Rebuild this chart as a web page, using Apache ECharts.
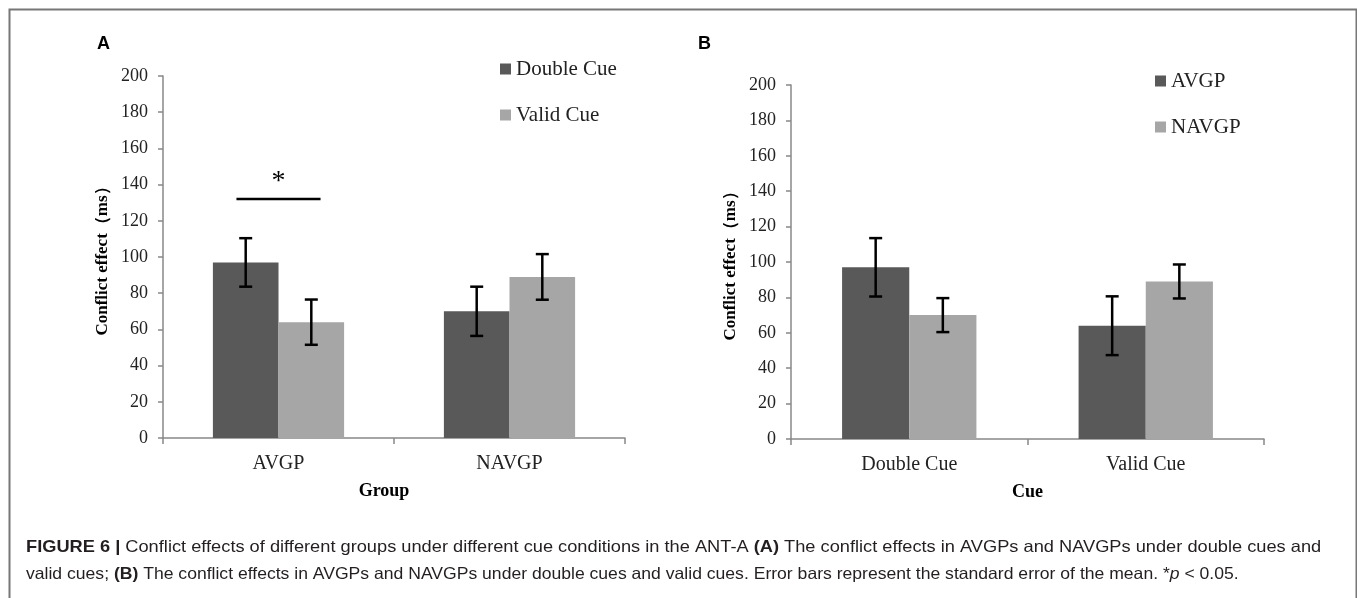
<!DOCTYPE html>
<html>
<head>
<meta charset="utf-8">
<script src="https://cdn.jsdelivr.net/npm/echarts@6/dist/echarts.min.js"></script>
<style>
html,body{margin:0;padding:0;background:#fff;}
#chart{width:1357px;height:598px;}
</style>
</head>
<body>
<div id="chart"></div>
<script>
// ---- data ----
const groupsA = ['AVGP', 'NAVGP'];
const doubleCueA = [97, 70];
const doubleCueErrA = [13.4, 13.6];
const validCueA = [64, 89];
const validCueErrA = [12.5, 12.6];

const cuesB = ['Double Cue', 'Valid Cue'];
const avgpB = [97, 64];
const avgpErrB = [16.5, 16.6];
const navgpB = [70, 89];
const navgpErrB = [9.6, 9.6];

const yMin = 0, yMax = 200, yStep = 20;
const sigLevel = 132;   // height of significance bracket in panel A
const sigStar = '*';

const DARK = '#595959', LIGHT = '#a6a6a6';
const SERIF = '"Liberation Serif","Times New Roman",serif';
const SANS = '"Liberation Sans",Arial,sans-serif';
const BAR_FRAC = 0.284;

function errSeries(name, xi, yi, vals, errs, side) {
  return {
    type: 'custom', name: name + ' err', xAxisIndex: xi, yAxisIndex: yi, z: 5,
    silent: true,
    data: vals.map((v, i) => [i, v, errs[i]]),
    renderItem: function (params, api) {
      const ci = api.value(0), v = api.value(1), e = api.value(2);
      const band = api.size([1, 0])[0];
      const c = api.coord([ci, v]);
      const x = c[0] + side * band * BAR_FRAC / 2;
      const top = api.coord([ci, v + e])[1];
      const bot = api.coord([ci, v - e])[1];
      const hw = 6.5;
      const st = { stroke: '#000', lineWidth: 2.5 };
      return {
        type: 'group',
        children: [
          { type: 'line', shape: { x1: x, y1: top, x2: x, y2: bot }, style: st },
          { type: 'line', shape: { x1: x - hw, y1: top, x2: x + hw, y2: top }, style: st },
          { type: 'line', shape: { x1: x - hw, y1: bot, x2: x + hw, y2: bot }, style: st }
        ]
      };
    }
  };
}

function yAxisCfg(gi) {
  return {
    type: 'value', gridIndex: gi, min: yMin, max: yMax, interval: yStep,
    name: 'Conflict effect（ms）', nameLocation: 'middle', nameGap: 52,
    nameTextStyle: { fontFamily: SERIF, fontWeight: 'bold', fontSize: 17, color: '#000' },
    axisLine: { show: true, lineStyle: { color: '#888', width: 1.5 } },
    axisTick: { show: true, length: 5, lineStyle: { color: '#888', width: 1.5 } },
    axisLabel: { fontFamily: SERIF, fontSize: 18, color: '#222', margin: 15 },
    splitLine: { show: false }
  };
}
function xAxisCfg(gi, cats, name, shift) {
  return {
    type: 'category', gridIndex: gi, data: cats,
    name: name, nameLocation: 'middle', nameGap: 44,
    nameTextStyle: { fontFamily: SERIF, fontWeight: 'bold', fontSize: 18, color: '#000',
                     padding: [0, shift * 2, 0, 0] },
    axisLine: { show: true, lineStyle: { color: '#888', width: 1.5 } },
    axisTick: { show: true, length: 6, lineStyle: { color: '#888', width: 1.5 } },
    axisLabel: { fontFamily: SERIF, fontSize: 20, color: '#222', margin: 16 }
  };
}
function legendCfg(names, left, top) {
  return {
    data: names, left: left, top: top, orient: 'vertical',
    icon: 'rect', itemWidth: 11, itemHeight: 11, itemGap: 22,
    textStyle: { fontFamily: SERIF, fontSize: 21, color: '#222', lineHeight: 24 },
    selectedMode: false
  };
}

const capRich = {
  b: { fontFamily: SANS, fontSize: 16.5, fontWeight: 'bold', fill: '#231f20' },
  i: { fontFamily: SANS, fontSize: 16.5, fontStyle: 'italic', fill: '#231f20' }
};

const option = {
  animation: false,
  backgroundColor: '#fff',
  title: [
    { text: 'A', left: 92, top: 30, textStyle: { fontFamily: SANS, fontWeight: 'bold', fontSize: 18, color: '#000' } },
    { text: 'B', left: 693, top: 30, textStyle: { fontFamily: SANS, fontWeight: 'bold', fontSize: 18, color: '#000' } }
  ],
  legend: [
    legendCfg(['Double Cue', 'Valid Cue'], 495, 52),
    legendCfg(['AVGP', 'NAVGP'], 1150, 64)
  ],
  grid: [
    { left: 163, top: 76, width: 462, height: 362 },
    { left: 791, top: 85, width: 473, height: 354 }
  ],
  xAxis: [xAxisCfg(0, groupsA, 'Group', 10), xAxisCfg(1, cuesB, 'Cue', 0)],
  yAxis: [yAxisCfg(0), yAxisCfg(1)],
  series: [
    { type: 'bar', name: 'Double Cue', xAxisIndex: 0, yAxisIndex: 0, data: doubleCueA,
      barWidth: (BAR_FRAC * 100) + '%', barGap: '0%', itemStyle: { color: DARK } },
    { type: 'bar', name: 'Valid Cue', xAxisIndex: 0, yAxisIndex: 0, data: validCueA,
      barWidth: (BAR_FRAC * 100) + '%', barGap: '0%', itemStyle: { color: LIGHT } },
    { type: 'bar', name: 'AVGP', xAxisIndex: 1, yAxisIndex: 1, data: avgpB,
      barWidth: (BAR_FRAC * 100) + '%', barGap: '0%', itemStyle: { color: DARK } },
    { type: 'bar', name: 'NAVGP', xAxisIndex: 1, yAxisIndex: 1, data: navgpB,
      barWidth: (BAR_FRAC * 100) + '%', barGap: '0%', itemStyle: { color: LIGHT } },
    errSeries('Double Cue', 0, 0, doubleCueA, doubleCueErrA, -1),
    errSeries('Valid Cue', 0, 0, validCueA, validCueErrA, 1),
    errSeries('AVGP', 1, 1, avgpB, avgpErrB, -1),
    errSeries('NAVGP', 1, 1, navgpB, navgpErrB, 1),
    {
      type: 'custom', name: 'significance', xAxisIndex: 0, yAxisIndex: 0, z: 6, silent: true,
      data: [[0, sigLevel]],
      renderItem: function (params, api) {
        const c = api.coord([api.value(0), api.value(1)]);
        const band = api.size([1, 0])[0];
        const hl = band * 0.182;
        return {
          type: 'group',
          children: [
            { type: 'line', shape: { x1: c[0] - hl, y1: c[1], x2: c[0] + hl, y2: c[1] },
              style: { stroke: '#000', lineWidth: 2.5 } },
            { type: 'text', x: c[0], y: c[1] - 17,
              style: { text: sigStar, fontFamily: SERIF, fontSize: 28, fill: '#000',
                       align: 'center', verticalAlign: 'middle' } }
          ]
        };
      }
    }
  ],
  graphic: [
    { type: 'rect', left: 7, top: 7, silent: true,
      shape: { width: 1347, height: 620 },
      style: { fill: 'none', stroke: '#777', lineWidth: 2 } },
    { type: 'text', x: 26, y: 539, scaleX: 1.105, silent: true,
      style: {
        text: '{b|FIGURE 6 |} Conflict effects of different groups under different cue conditions in the ANT-A {b|(A)} The conflict effects in AVGPs and NAVGPs under double cues and',
        fontFamily: SANS, fontSize: 16.5, fill: '#231f20', rich: capRich
      } },
    { type: 'text', x: 26, y: 566, scaleX: 1.065, silent: true,
      style: {
        text: 'valid cues; {b|(B)} The conflict effects in AVGPs and NAVGPs under double cues and valid cues. Error bars represent the standard error of the mean. *{i|p} < 0.05.',
        fontFamily: SANS, fontSize: 16.5, fill: '#231f20', rich: capRich
      } }
  ]
};

const chart = echarts.init(document.getElementById('chart'), null, { renderer: 'canvas' });
chart.setOption(option);
</script>
</body>
</html>
